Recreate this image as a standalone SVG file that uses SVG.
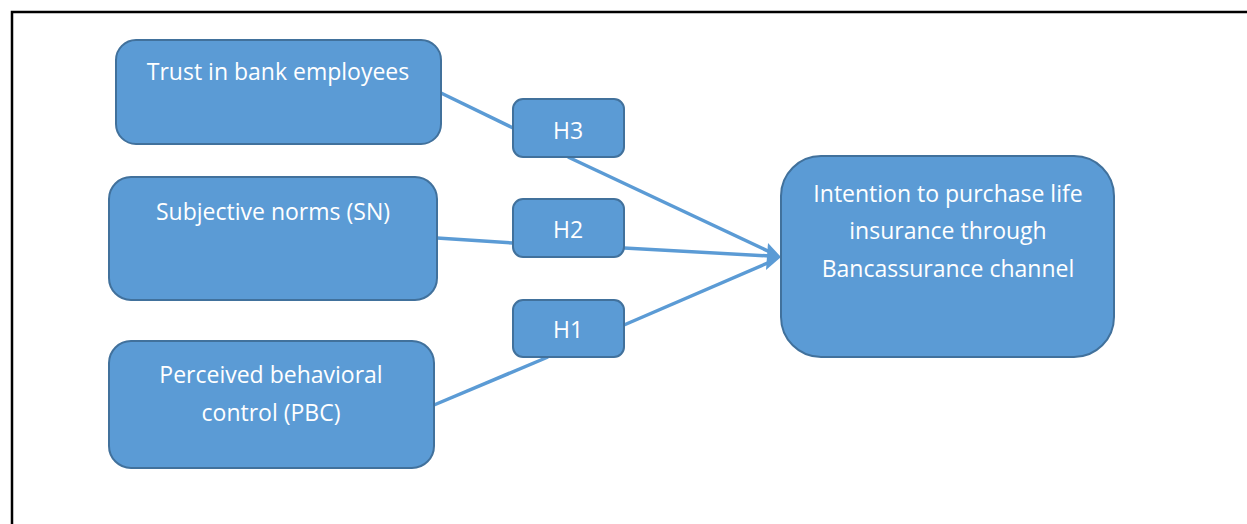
<svg xmlns="http://www.w3.org/2000/svg" width="1247" height="524" viewBox="0 0 1247 524">
<style>
.box{fill:#5B9BD5;stroke:#41719C;stroke-width:2}
.t{font-family:"Open Sans","Liberation Sans",sans-serif;font-size:23px;fill:#FFFFFF;text-anchor:middle}
.c{stroke:#5B9BD5;stroke-width:3.5;fill:none}
</style>
<rect x="0" y="0" width="1247" height="524" fill="#FFFFFF"/>
<path d="M12,524 L12,12 L1247,12" fill="none" stroke="#000000" stroke-width="2.5"/>
<g id="connectors">
<line class="c" x1="441" y1="93" x2="513" y2="128"/>
<line class="c" x1="437" y1="238" x2="513" y2="243"/>
<line class="c" x1="548" y1="357" x2="434" y2="405"/>
<line class="c" x1="568" y1="157" x2="770" y2="252"/>
<line class="c" x1="624" y1="248" x2="770" y2="256"/>
<line class="c" x1="624" y1="325" x2="770" y2="262"/>
<path d="M768,243 L781,257 L766,270 z" fill="#5B9BD5"/>
</g>
<g id="trust">
<rect class="box" x="116" y="40" width="325" height="104" rx="20"/>
<text class="t" x="278" y="80">Trust in bank employees</text>
</g>
<g id="sn">
<rect class="box" x="109" y="177" width="328" height="123" rx="22"/>
<text class="t" x="273" y="220">Subjective norms (SN)</text>
</g>
<g id="pbc">
<rect class="box" x="109" y="341" width="325" height="127" rx="22"/>
<text class="t" x="271" y="383">Perceived behavioral</text>
<text class="t" x="271" y="421">control (PBC)</text>
</g>
<g id="h3">
<rect class="box" x="513" y="99" width="111" height="58" rx="10"/>
<text class="t" x="568" y="139">H3</text>
</g>
<g id="h2">
<rect class="box" x="513" y="199" width="111" height="58" rx="10"/>
<text class="t" x="568" y="238">H2</text>
</g>
<g id="h1">
<rect class="box" x="513" y="300" width="111" height="57" rx="10"/>
<text class="t" x="568" y="338">H1</text>
</g>
<g id="intention">
<rect class="box" x="781" y="156" width="333" height="201" rx="40"/>
<text class="t" x="948" y="202">Intention to purchase life</text>
<text class="t" x="948" y="239">insurance through</text>
<text class="t" x="948" y="277">Bancassurance channel</text>
</g>
</svg>
